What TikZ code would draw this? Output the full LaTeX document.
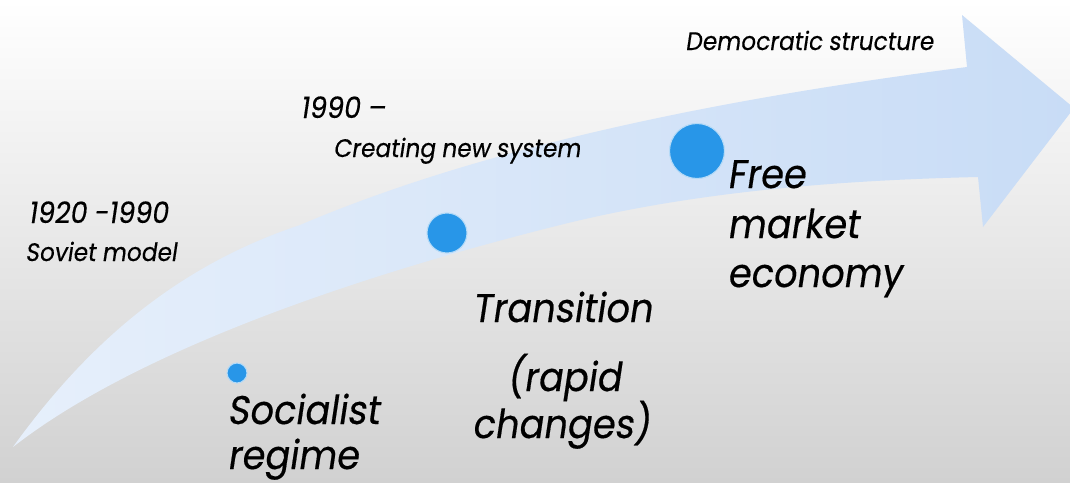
\documentclass[tikz,border=0pt]{standalone}
\usepackage{fontspec}
\setmainfont{Poppins}[FakeSlant=0.15,FakeStretch=0.92,FakeBold=0.4]
\definecolor{arrowblue}{RGB}{200,220,246}
\definecolor{dotblue}{RGB}{40,150,232}
\tikzset{
  dot/.style={circle, fill=dotblue, draw=dotblue!35!white, line width=0.8pt, inner sep=0pt},
  bigtext/.style={anchor=base west, inner sep=0pt, font=\fontsize{30}{36}\selectfont},
  smalltext/.style={anchor=base west, inner sep=0pt, font=\fontsize{19}{23}\selectfont},
  yeartext/.style={smalltext, font=\fontsize{22}{26}\selectfont},
}

\begin{document}
\begin{tikzpicture}[x=0.75pt, y=-0.75pt]
    % Page and background
    \useasboundingbox (0,0) rectangle (1070,482);
    \clip (0,0) rectangle (1070,482);
    \shade[top color=white, bottom color=black!18] (0,0) rectangle (1070,482);

    % Curved arrow
    \shade[left color=arrowblue!45!white, middle color=arrowblue, right color=arrowblue]
        (13,447) .. controls (90,340) and (180,265) .. (300,225)
        .. controls (500,140) and (750,95) .. (967,67)
        -- (962,15) -- (1074,108) -- (983,227) -- (978,177)
        .. controls (850,180) and (700,190) .. (560,225)
        .. controls (400,265) and (150,340) .. (13,447) -- cycle;

    % Stage dots
    \foreach \name/\pos/\size in {dotA/{(237,373)}/20, dotB/{(447,233)}/40, dotC/{(697,151)}/55}
        \node[dot, minimum size=\size*0.75pt] (\name) at \pos {};

    % Period labels
    \node[yeartext] (yearA) at (28,223) {1920 -1990};
    \node[smalltext] (soviet) at (25,261) {Soviet model};
    \node[yeartext] (yearB) at (300,118) {1990 –};
    \node[smalltext] (create) at (333,157) {Creating new system};
    \node[smalltext] (democ) at (685,50) {Democratic structure};

    % Stage labels
    \node[bigtext] (social) at (227,424) {Socialist};
    \node[bigtext] (regime) at (227,469) {regime};
    \node[bigtext, anchor=base] (trans) at (562,322) {Transition};
    \node[bigtext, anchor=base] (rapid) at (564,391) {(rapid};
    \node[bigtext, anchor=base] (changes) at (561,438) {changes)};
    \node[bigtext] (free) at (727,188) {Free};
    \node[bigtext] (market) at (727,238) {market};
    \node[bigtext] (economy) at (727,287) {economy};
\end{tikzpicture}
\end{document}
